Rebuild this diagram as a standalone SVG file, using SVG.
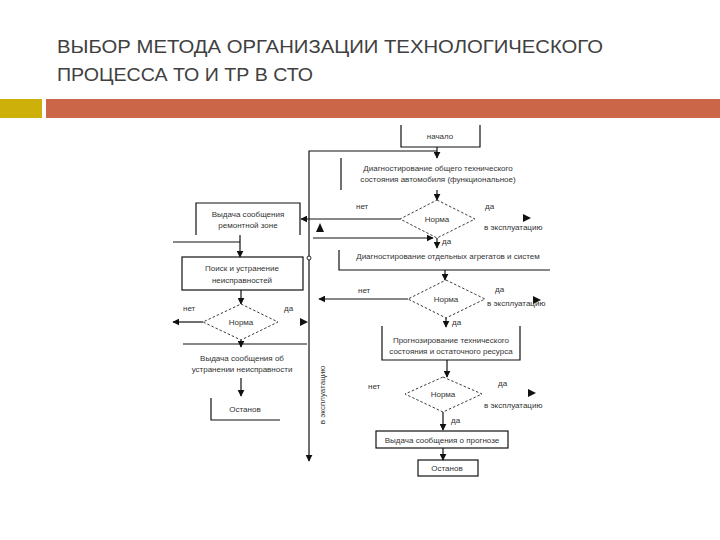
<svg xmlns="http://www.w3.org/2000/svg" width="720" height="540" viewBox="0 0 720 540">
<defs>
<marker id="ah" viewBox="0 0 10 10" refX="9" refY="5" markerWidth="7" markerHeight="7" markerUnits="userSpaceOnUse" orient="auto"><path d="M0,0 L10,5 L0,10 z" fill="#111"/></marker>
<style>
.title{font-family:"Liberation Sans","Open Sans",sans-serif;font-size:19px;fill:#404040}
.t{font-family:"Liberation Sans",Arial,sans-serif;font-size:8px;fill:#333;text-anchor:middle}
.l{font-family:"Liberation Sans",Arial,sans-serif;font-size:8px;fill:#333}
.ln{fill:none;stroke:#111;stroke-width:1.2}
.c{fill:none;stroke:#111;stroke-width:1.2}
.ca{fill:none;stroke:#111;stroke-width:1.2;marker-end:url(#ah)}
.d{fill:#fff;stroke:#222;stroke-width:0.9;stroke-dasharray:2.5,2}
.h{fill:#111}
</style>
</defs>
<rect width="720" height="540" fill="#fff"/>
<g id="header">
<text class="title" x="57" y="53" textLength="546" lengthAdjust="spacingAndGlyphs">ВЫБОР МЕТОДА ОРГАНИЗАЦИИ ТЕХНОЛОГИЧЕСКОГО</text>
<text class="title" x="57" y="81" textLength="256" lengthAdjust="spacingAndGlyphs">ПРОЦЕССА ТО И ТР В СТО</text>
<rect x="0" y="99" width="42" height="19" fill="#CDB00A"/>
<rect x="46" y="99" width="674" height="19" fill="#CC6649"/>
</g>
<g id="connectors">
<path class="ca" d="M437,151 H309 V461"/>
<path class="ca" d="M437,147 V158"/>
<path class="ca" d="M437,190 V200"/>
<path class="ca" d="M400,219 H301"/>
<polygon class="h" points="320,223 316,232 324,232"/>
<polygon class="h" points="523,214 531,218 523,222"/>
<path class="ca" d="M313,238 H433"/>
<path class="ca" d="M437,238 V248"/>
<path class="c" d="M173,242 H240"/>
<path class="ca" d="M240,235 V257"/>
<circle cx="309" cy="258" r="2" fill="#fff" stroke="#111" stroke-width="0.9"/>
<path class="ca" d="M241,290 V304"/>
<path class="ca" d="M203,322 H173"/>
<polygon class="h" points="300,318 308,322 300,326"/>
<path class="ca" d="M241,340 V347"/>
<path class="ca" d="M241,378 V396"/>
<path class="ca" d="M445,270 V280"/>
<path class="ca" d="M408,299 H319"/>
<polygon class="h" points="533,296 541,300 533,304"/>
<path class="ca" d="M446,318 V327"/>
<path class="ca" d="M447,360 V377"/>
<polygon class="h" points="528,389 536,393 528,397"/>
<path class="ca" d="M443,412 V430"/>
<path class="ca" d="M443,448 V460"/>
</g>
<g id="n-start">
<path class="ln" d="M401,125 V147 H480 V125"/>
<text class="t" x="440" y="139">начало</text>
</g>
<g id="n-diag-general">
<path class="ln" d="M341,158 V190"/>
<text class="t" x="438" y="171">Диагностирование общего технического</text>
<text class="t" x="438" y="182">состояния автомобиля (функциональное)</text>
</g>
<g id="n-norm1">
<polygon class="d" points="437,200 475,219 437,238 400,219"/>
<text class="t" x="437" y="222">Норма</text>
<text class="l" x="356" y="209">нет</text>
<text class="l" x="485" y="209">да</text>
<text class="l" x="484" y="230">в эксплуатацию</text>
<text class="l" x="442" y="244">да</text>
</g>
<g id="n-repair-msg">
<path class="ln" d="M196,235 V203 H300 V235"/>
<text class="t" x="248" y="217">Выдача сообщения</text>
<text class="t" x="248" y="228">ремонтной зоне</text>
</g>
<g id="n-diag-units">
<path class="ln" d="M339,250 V270 H550"/>
<text class="t" x="448" y="259">Диагностирование отдельных агрегатов и систем</text>
</g>
<g id="n-search">
<rect class="ln" x="182" y="257" width="121" height="33"/>
<text class="t" x="242" y="271">Поиск и устранение</text>
<text class="t" x="242" y="283">неисправностей</text>
</g>
<g id="n-norm2">
<polygon class="d" points="241,304 278,322 241,340 203,322"/>
<text class="t" x="241" y="325">Норма</text>
<text class="l" x="183" y="311">нет</text>
<text class="l" x="284" y="311">да</text>
</g>
<g id="n-fix-msg">
<path class="ln" d="M183,344 H307"/>
<text class="t" x="242" y="361">Выдача сообщения об</text>
<text class="t" x="242" y="372">устранении неисправности</text>
</g>
<g id="n-stop1">
<path class="ln" d="M211,398 V420 H280"/>
<text class="t" x="245" y="412">Останов</text>
</g>
<g id="n-exploit-v">
<text class="t" transform="translate(325,395) rotate(-90)">в эксплуатацию</text>
</g>
<g id="n-norm3">
<polygon class="d" points="446,280 485,299 446,318 408,299"/>
<text class="t" x="446" y="302">Норма</text>
<text class="l" x="358" y="293">нет</text>
<text class="l" x="495" y="292">да</text>
<text class="l" x="487" y="306">в эксплуатацию</text>
<text class="l" x="452" y="325">да</text>
</g>
<g id="n-forecast">
<path class="ln" d="M382,326 V360 H520 V326"/>
<text class="t" x="451" y="343">Прогнозирование технического</text>
<text class="t" x="451" y="354">состояния и остаточного ресурса</text>
</g>
<g id="n-norm4">
<polygon class="d" points="443,377 482,394 443,412 405,394"/>
<text class="t" x="443" y="397">Норма</text>
<text class="l" x="368" y="389">нет</text>
<text class="l" x="498" y="386">да</text>
<text class="l" x="484" y="408">в эксплуатацию</text>
<text class="l" x="451" y="423">да</text>
</g>
<g id="n-forecast-msg">
<rect class="ln" x="376" y="431" width="132" height="17"/>
<text class="t" x="442" y="443">Выдача сообщения о прогнозе</text>
</g>
<g id="n-stop2">
<rect class="ln" x="418" y="460" width="60" height="16"/>
<text class="t" x="447" y="471">Останов</text>
</g>
</svg>
